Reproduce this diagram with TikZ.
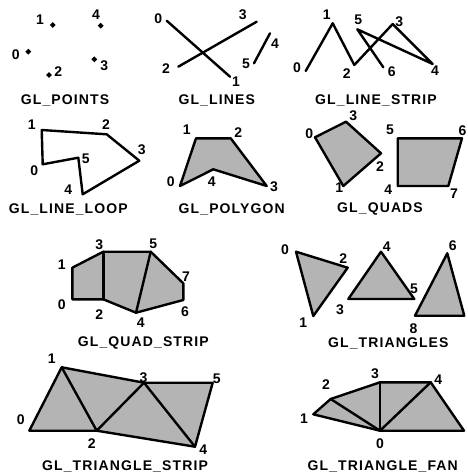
\documentclass[tikz,border=0pt]{standalone}
\usepackage{fontspec}
\usetikzlibrary{shapes.geometric}
\newfontfamily\glfont[LetterSpace=8]{Liberation Sans}
\definecolor{fillg}{RGB}{180,180,180}
\tikzset{
  edge/.style={draw=black, line width=2.4pt, line join=round, line cap=round},
  solid/.style={edge, fill=fillg},
  lab/.style={inner sep=0pt, font=\glfont\bfseries\fontsize{14}{14}\selectfont},
  ttl/.style={inner sep=0pt, font=\glfont\bfseries\fontsize{14}{14}\selectfont},
  dot/.style={diamond, fill=black, inner sep=0pt, minimum size=6pt}
}
\begin{document}
\begin{tikzpicture}[x=1pt,y=-1pt]
\useasboundingbox (0,0) rectangle (468,475);
% ---------- GL_POINTS
\coordinate (a0) at (28.3,51.7);
\coordinate (a1) at (52.7,25);
\coordinate (a2) at (49,75);
\coordinate (a3) at (94.3,59.3);
\coordinate (a4) at (100.7,25.7);
\foreach \i in {0,...,4} {\node[dot] (ad\i) at (a\i) {};}
\node[lab] (al0) at (15.7,55) {0};
\node[lab] (al1) at (40,20) {1};
\node[lab] (al2) at (58.3,71.7) {2};
\node[lab] (al3) at (104.3,66) {3};
\node[lab] (al4) at (96,15) {4};
\node[ttl] (at) at (65,100) {GL\_POINTS};
% ---------- GL_LINES
\coordinate (b0) at (166.7,20.7);
\coordinate (b1) at (230,76.7);
\coordinate (b2) at (178.3,66.7);
\coordinate (b3) at (256.7,21.7);
\coordinate (b4) at (270,33.3);
\coordinate (b5) at (254,63.3);
\draw[edge] (b0) -- (b1);
\draw[edge] (b2) -- (b3);
\draw[edge] (b4) -- (b5);
\node[lab] (bl0) at (158.3,18.3) {0};
\node[lab] (bl1) at (236,82) {1};
\node[lab] (bl2) at (166,68.3) {2};
\node[lab] (bl3) at (242.7,15) {3};
\node[lab] (bl4) at (275,43.3) {4};
\node[lab] (bl5) at (246,64) {5};
\node[ttl] (bt) at (216.7,100) {GL\_LINES};
% ---------- GL_LINE_STRIP
\coordinate (c0) at (305.7,71);
\coordinate (c1) at (332.7,23.3);
\coordinate (c2) at (354.3,65);
\coordinate (c3) at (392.7,24);
\coordinate (c4) at (432.7,64);
\coordinate (c5) at (357.3,29.3);
\coordinate (c6) at (383.3,67.3);
\draw[edge] (c0) -- (c1) -- (c2) -- (c3) -- (c4) -- (c5) -- (c6);
\node[lab] (cl0) at (297,68) {0};
\node[lab] (cl1) at (326.7,15) {1};
\node[lab] (cl2) at (346.7,74) {2};
\node[lab] (cl3) at (399.3,21.7) {3};
\node[lab] (cl4) at (435,70.7) {4};
\node[lab] (cl5) at (358.3,20) {5};
\node[lab] (cl6) at (391.7,71.7) {6};
\node[ttl] (ct) at (376,100) {GL\_LINE\_STRIP};
% ---------- GL_LINE_LOOP
\coordinate (d0) at (42.7,164.3);
\coordinate (d1) at (41.7,130);
\coordinate (d2) at (106.7,134.3);
\coordinate (d3) at (139.3,160.7);
\coordinate (d4) at (82.7,194.3);
\coordinate (d5) at (78.3,157.7);
\draw[edge] (d0) -- (d1) -- (d2) -- (d3) -- (d4) -- (d5) -- cycle;
\node[lab] (dl0) at (34.3,171) {0};
\node[lab] (dl1) at (31.7,125) {1};
\node[lab] (dl2) at (106,125) {2};
\node[lab] (dl3) at (141.7,150) {3};
\node[lab] (dl4) at (68.3,190) {4};
\node[lab] (dl5) at (85.7,158.3) {5};
\node[ttl] (dt) at (68.3,209.3) {GL\_LINE\_LOOP};
% ---------- GL_POLYGON
\coordinate (e0) at (180,186);
\coordinate (e1) at (196,138.3);
\coordinate (e2) at (230.7,138.3);
\coordinate (e3) at (266.7,186);
\coordinate (e4) at (213.3,169.3);
\draw[solid] (e0) -- (e1) -- (e2) -- (e3) -- (e4) -- cycle;
\node[lab] (el0) at (170.7,181.7) {0};
\node[lab] (el1) at (186.7,130) {1};
\node[lab] (el2) at (238.3,132.7) {2};
\node[lab] (el3) at (274,186.7) {3};
\node[lab] (el4) at (211.7,181.7) {4};
\node[ttl] (et) at (231.7,209.3) {GL\_POLYGON};
% ---------- GL_QUADS
\coordinate (f0) at (315,137.3);
\coordinate (f1) at (343.3,186);
\coordinate (f2) at (381,153.3);
\coordinate (f3) at (346,121.7);
\coordinate (f4) at (397.7,186);
\coordinate (f5) at (397.7,138.3);
\coordinate (f6) at (462,138.3);
\coordinate (f7) at (448.3,186);
\draw[solid] (f0) -- (f1) -- (f2) -- (f3) -- cycle;
\draw[solid] (f4) -- (f5) -- (f6) -- (f7) -- cycle;
\node[lab] (fl0) at (309.3,133.3) {0};
\node[lab] (fl1) at (339.3,187.3) {1};
\node[lab] (fl2) at (380,166.7) {2};
\node[lab] (fl3) at (353.3,116) {3};
\node[lab] (fl4) at (388.3,190) {4};
\node[lab] (fl5) at (390,130) {5};
\node[lab] (fl6) at (462.5,131) {6};
\node[lab] (fl7) at (454,193.3) {7};
\node[ttl] (ft) at (380,209.3) {GL\_QUADS};
% ---------- GL_QUAD_STRIP
\coordinate (g0) at (72.3,299.3);
\coordinate (g1) at (72.3,267.7);
\coordinate (g2) at (103.3,299.3);
\coordinate (g3) at (103.3,251.7);
\coordinate (g4) at (136,312.7);
\coordinate (g5) at (150.7,251.7);
\coordinate (g6) at (183.3,300);
\coordinate (g7) at (183.3,283.3);
\draw[solid] (g0) -- (g1) -- (g3) -- (g5) -- (g7) -- (g6) -- (g4) -- (g2) -- cycle;
\draw[edge] (g2) -- (g3);
\draw[edge] (g4) -- (g5);
\node[lab] (gl0) at (61.7,305) {0};
\node[lab] (gl1) at (61.7,265) {1};
\node[lab] (gl2) at (99.3,315) {2};
\node[lab] (gl3) at (99.3,244.3) {3};
\node[lab] (gl4) at (140.7,322.3) {4};
\node[lab] (gl5) at (153.3,243.3) {5};
\node[lab] (gl6) at (185,311.7) {6};
\node[lab] (gl7) at (186,276.7) {7};
\node[ttl] (gt) at (143.3,343.3) {GL\_QUAD\_STRIP};
% ---------- GL_TRIANGLES
\coordinate (h0) at (296,251.7);
\coordinate (h1) at (313.3,316);
\coordinate (h2) at (347.7,267.7);
\coordinate (h3) at (348.3,299);
\coordinate (h4) at (381,251.7);
\coordinate (h5) at (414.3,299);
\coordinate (h6) at (447.3,253.3);
\coordinate (h7) at (464.3,315.7);
\coordinate (h8) at (415,315.7);
\draw[solid] (h0) -- (h1) -- (h2) -- cycle;
\draw[solid] (h3) -- (h4) -- (h5) -- cycle;
\draw[solid] (h6) -- (h7) -- (h8) -- cycle;
\node[lab] (hl0) at (285,250) {0};
\node[lab] (hl1) at (303.3,322.3) {1};
\node[lab] (hl2) at (343.3,258.3) {2};
\node[lab] (hl3) at (340,310) {3};
\node[lab] (hl4) at (386.7,246.7) {4};
\node[lab] (hl5) at (414,288.3) {5};
\node[lab] (hl6) at (452.7,245.7) {6};
\node[lab] (hl8) at (413.5,329) {8};
\node[ttl] (ht) at (388.3,343.3) {GL\_TRIANGLES};
% ---------- GL_TRIANGLE_STRIP
\coordinate (k0) at (29.3,430.7);
\coordinate (k1) at (61.7,367.3);
\coordinate (k2) at (96.7,430.7);
\coordinate (k3) at (144,382.7);
\coordinate (k4) at (195,446.7);
\coordinate (k5) at (212.7,382.7);
\draw[solid] (k0) -- (k1) -- (k3) -- (k5) -- (k4) -- (k2) -- cycle;
\draw[edge] (k1) -- (k2) -- (k3) -- (k4);
\node[lab] (kl0) at (20.7,420) {0};
\node[lab] (kl1) at (51.7,358.3) {1};
\node[lab] (kl2) at (91.7,443.3) {2};
\node[lab] (kl3) at (143.5,378) {3};
\node[lab] (kl4) at (203.3,449.3) {4};
\node[lab] (kl5) at (216.7,378.3) {5};
\node[ttl] (kt) at (125,466.7) {GL\_TRIANGLE\_STRIP};
% ---------- GL_TRIANGLE_FAN
\coordinate (m0) at (380,430.7);
\coordinate (m1) at (313.3,414.3);
\coordinate (m2) at (330.7,399);
\coordinate (m3) at (380,382.3);
\coordinate (m4) at (430.7,382.3);
\coordinate (m5) at (464,430.7);
\draw[solid] (m0) -- (m1) -- (m2) -- (m3) -- (m4) -- (m5) -- cycle;
\draw[edge] (m0) -- (m2);
\draw[edge] (m0) -- (m3);
\draw[edge] (m0) -- (m4);
\node[lab] (ml0) at (380,443.3) {0};
\node[lab] (ml1) at (304,418.3) {1};
\node[lab] (ml2) at (326,385) {2};
\node[lab] (ml3) at (375,374) {3};
\node[lab] (ml4) at (438.3,379.3) {4};
\node[ttl] (mt) at (382.7,466.7) {GL\_TRIANGLE\_FAN};
\end{tikzpicture}
\end{document}
